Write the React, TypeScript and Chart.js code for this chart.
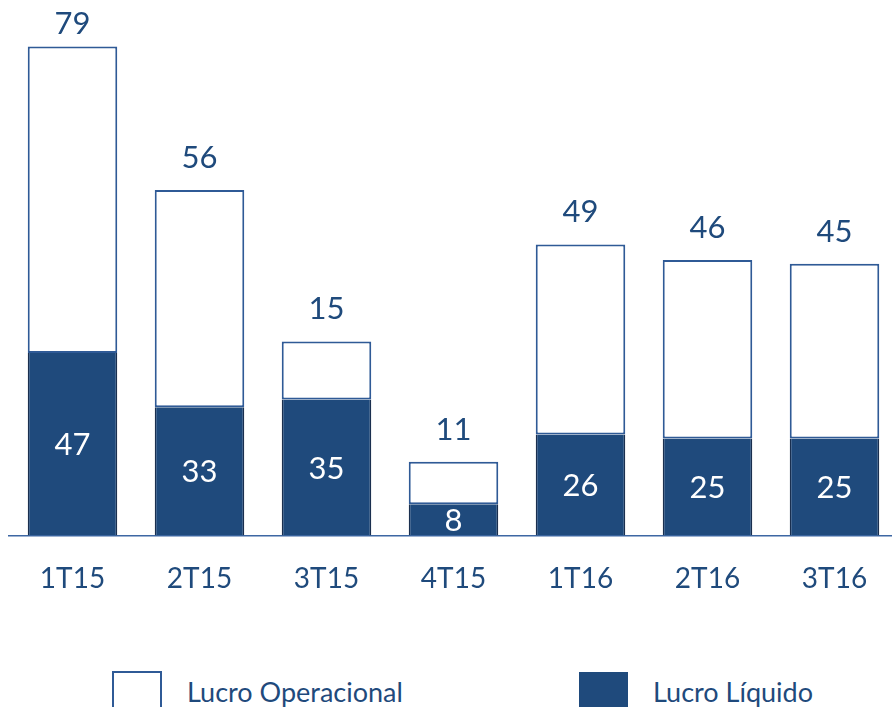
import React, { useEffect, useRef } from "react";
import { Chart, registerables } from "chart.js";

Chart.register(...registerables);

const categories = ["1T15", "2T15", "3T15", "4T15", "1T16", "2T16", "3T16"];
const lucroLiquido = [47, 33, 35, 8, 26, 25, 25];
const lucroOperacional = [79, 56, 15, 11, 49, 46, 45];
const seriesNames = ["Lucro Operacional", "Lucro Líquido"];

const DARK = "#1F4A7C";
const BORDER = "#2F5A96";
const TEXT = "#1F4A7C";
const FONT = "Lato, 'Open Sans', sans-serif";

const labelPlugin = {
  id: "valueLabels",
  afterDatasetsDraw(chart: any) {
    const ctx = chart.ctx;
    ctx.save();
    ctx.font = `31px ${FONT}`;
    ctx.textAlign = "center";
    ctx.textBaseline = "middle";
    chart.data.datasets.forEach((ds: any, di: number) => {
      const meta = chart.getDatasetMeta(di);
      meta.data.forEach((bar: any, i: number) => {
        const v = ds.data[i];
        if (di === 0) {
          ctx.fillStyle = "#FFFFFF";
          ctx.fillText(String(v), bar.x, (bar.y + bar.base) / 2 + 1);
        } else {
          ctx.fillStyle = TEXT;
          const y = Math.max(bar.y - 32, chart.chartArea.top + 24);
          ctx.fillText(String(v), bar.x, y);
        }
      });
    });
    ctx.restore();
  },
};

export default function App() {
  const ref = useRef<HTMLCanvasElement>(null);
  useEffect(() => {
    if (!ref.current) return;
    const chart = new Chart(ref.current, {
      type: "bar",
      data: {
        labels: categories,
        datasets: [
          {
            label: seriesNames[1],
            data: lucroLiquido,
            backgroundColor: DARK,
            borderColor: "#1A2F4F",
            borderWidth: { left: 1.5, right: 1.5, top: 0, bottom: 0 },
            borderSkipped: false,
          },
          {
            label: seriesNames[0],
            data: lucroOperacional,
            backgroundColor: "#FFFFFF",
            borderColor: BORDER,
            borderWidth: 2,
            borderSkipped: false,
          },
        ],
      },
      options: {
        responsive: false,
        animation: false,
        layout: { padding: { top: 0, bottom: 10, left: 9, right: 2 } },
        plugins: { legend: { display: false }, tooltip: { enabled: false } },
        datasets: { bar: { categoryPercentage: 1, barPercentage: 0.705 } },
        scales: {
          x: {
            stacked: true,
            grid: { display: false, drawTicks: false },
            border: { display: true, color: "#3D67A3", width: 1.5 },
            ticks: {
              color: TEXT,
              font: { family: FONT, size: 28 },
              padding: 27,
            },
          },
          y: {
            stacked: true,
            display: false,
            min: 0,
            max: 138,
          },
        },
      },
      plugins: [labelPlugin],
    });
    return () => chart.destroy();
  }, []);

  return (
    <div
      style={{
        position: "fixed",
        left: 0,
        top: 0,
        width: 892,
        height: 707,
        overflow: "hidden",
        background: "#fff",
        fontFamily: FONT,
      }}
    >
      <canvas
        ref={ref}
        width={900}
        height={633}
        style={{ position: "absolute", left: 0, top: 0, width: 900, height: 633 }}
      />
      <div
        style={{
          position: "absolute",
          left: 112,
          top: 671,
          width: 50,
          height: 40,
          boxSizing: "border-box",
          border: `2px solid ${BORDER}`,
          background: "#fff",
        }}
      />
      <div
        style={{
          position: "absolute",
          left: 187,
          top: 678,
          fontSize: 27,
          lineHeight: "27px",
          color: TEXT,
          whiteSpace: "nowrap",
        }}
      >
        {seriesNames[0]}
      </div>
      <div
        style={{
          position: "absolute",
          left: 579,
          top: 672,
          width: 49,
          height: 40,
          background: DARK,
        }}
      />
      <div
        style={{
          position: "absolute",
          left: 653,
          top: 678,
          fontSize: 27,
          lineHeight: "27px",
          color: TEXT,
          whiteSpace: "nowrap",
        }}
      >
        {seriesNames[1]}
      </div>
    </div>
  );
}
